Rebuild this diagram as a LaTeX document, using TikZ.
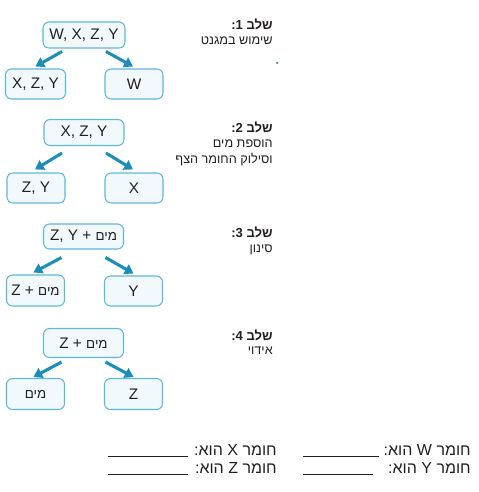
\documentclass[tikz,border=0pt]{standalone}
\usepackage{fontspec}
\setmainfont{Liberation Sans}
\newfontfamily\heb[Script=Hebrew]{Liberation Sans}
\TeXXeTstate=1
\usetikzlibrary{arrows.meta,calc}
\definecolor{boxline}{HTML}{5DB8DA}
\definecolor{boxfill}{HTML}{F1F9FC}
\definecolor{arrowc}{HTML}{1C8DB8}
\definecolor{txt}{HTML}{231F20}
\newcommand{\mayim}{{\heb\fontsize{10}{12}\selectfont\beginR מים\endR}}
\begin{document}
\begin{tikzpicture}[x=0.75pt,y=-0.75pt,
  bx/.style 2 args={draw=boxline, fill=boxfill, line width=0.8pt, rounded corners=4.5pt,
    minimum width=#1*0.75pt, minimum height=#2*0.75pt, inner sep=0pt,
    font=\fontsize{11.5}{13}\selectfont, text=txt},
  arr/.style={draw=arrowc, line width=2.3pt, -{Triangle[length=6.5pt,width=8pt]}},
  lab/.style={anchor=base east, inner sep=0pt, font=\heb\fontsize{9.5}{12}\selectfont, text=txt},
  hd/.style={lab, font=\heb\bfseries\fontsize{9.8}{12}\selectfont},
  qt/.style={anchor=base east, inner sep=0pt, font=\heb\fontsize{12}{14}\selectfont, text=txt},
  blank/.style={draw=txt, line width=0.7pt}]
\useasboundingbox (0,0) rectangle (478,492);

% step 1
\node[bx={82}{26}] (t1) at (84,35) {W, X, Z, Y};
\node[bx={60}{30}] (l1) at (35.5,84) {X, Z, Y};
\node[bx={58}{30}] (r1) at (134,84) {W};
\draw[arr] ($(t1.south)+(-22,3)$) -- ($(l1.north)+(0,-2)$);
\draw[arr] ($(t1.south)+(22,3)$) -- ($(r1.north)+(-1,-2)$);
\node[hd] (s1a) at (273,30) {\beginR שלב 1:\endR};
\node[lab] (s1b) at (273,45) {\beginR שימוש במגנט\endR};
\fill[arrowc!60!black] (277,63) circle (1);

% step 2
\node[bx={80}{26}] (t2) at (84,132.5) {X, Z, Y};
\node[bx={58}{30}] (l2) at (36,188) {Z, Y};
\node[bx={58}{30}] (r2) at (134,188) {X};
\draw[arr] ($(t2.south)+(-22,7)$) -- ($(l2.north)+(-1,-3)$);
\draw[arr] ($(t2.south)+(22,7)$) -- ($(r2.north)+(-1,-3)$);
\node[hd] (s2a) at (273,132) {\beginR שלב 2:\endR};
\node[lab] (s2b) at (273,147.5) {\beginR הוספת מים\endR};
\node[lab] (s2c) at (273,163) {\beginR וסילוק החומר הצף\endR};

% step 3
\node[bx={80}{25}] (t3) at (83.5,236.5) {Z, Y + \mayim};
\node[bx={58}{31}] (l3) at (35.5,290.5) {Z + \mayim};
\node[bx={58}{30}] (r3) at (133.5,291) {Y};
\draw[arr] ($(t3.south)+(-22,8)$) -- ($(l3.north)+(-2,-2)$);
\draw[arr] ($(t3.south)+(22,8)$) -- ($(r3.north)+(0,-2)$);
\node[hd] (s3a) at (273,237) {\beginR שלב 3:\endR};
\node[lab] (s3b) at (273,252) {\beginR סינון\endR};

% step 4
\node[bx={80}{29}] (t4) at (83.5,343) {Z + \mayim};
\node[bx={58}{31}] (l4) at (35.5,394) {\mayim};
\node[bx={58}{31}] (r4) at (133.5,394) {Z};
\draw[arr] ($(t4.south)+(-22,4)$) -- ($(l4.north)+(-2,-1)$);
\draw[arr] ($(t4.south)+(22,4)$) -- ($(r4.north)+(0,-1)$);
\node[hd] (s4a) at (273,340) {\beginR שלב 4:\endR};
\node[lab] (s4b) at (273,354) {\beginR אידוי\endR};

% questions
\node[qt] (qw) at (471,455) {\beginR חומר W הוא:\endR};
\node[qt] (qy) at (471,473) {\beginR חומר Y הוא:\endR};
\node[qt] (qx) at (277,455) {\beginR חומר X הוא:\endR};
\node[qt] (qz) at (277,473) {\beginR חומר Z הוא:\endR};
\draw[blank] (303,456) -- (379,456);
\draw[blank] (303,474) -- (373,474);
\draw[blank] (108,456) -- (188,456);
\draw[blank] (108,474) -- (188,474);
\end{tikzpicture}
\end{document}
